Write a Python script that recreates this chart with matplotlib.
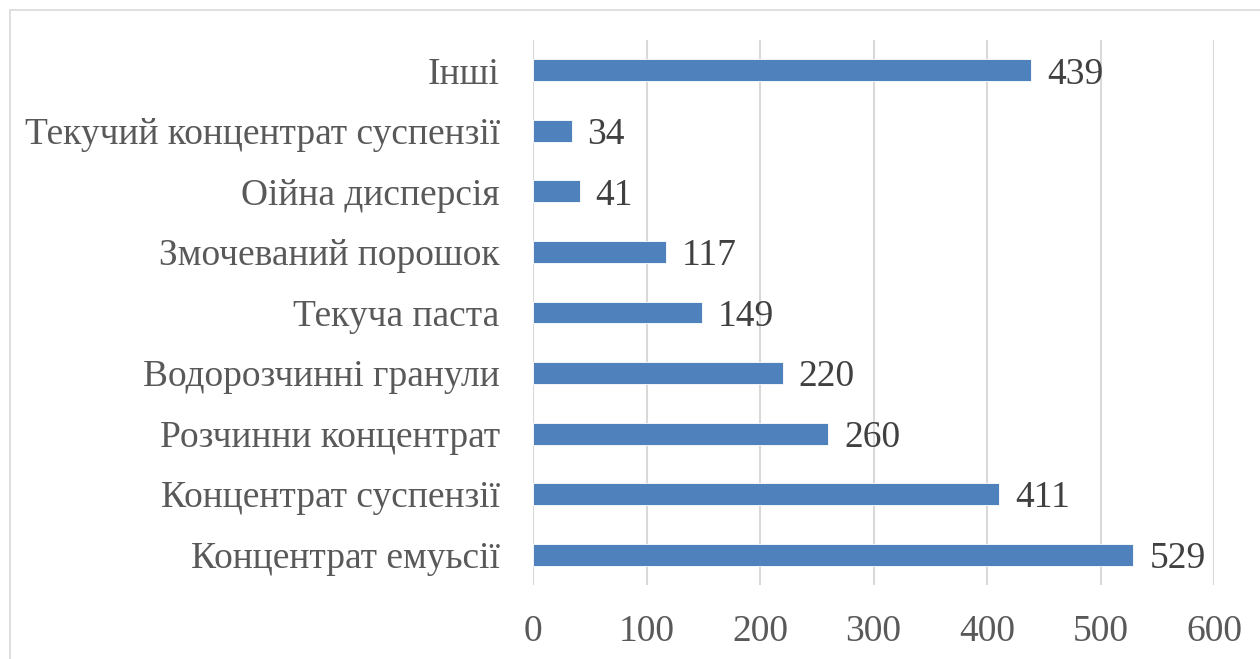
import matplotlib
matplotlib.use("Agg")
import matplotlib.pyplot as plt
from matplotlib.patches import Rectangle

categories = ["Концентрат емуьсії", "Концентрат суспензії", "Розчинни концентрат",
              "Водорозчинні гранули", "Текуча паста", "Змочеваний порошок",
              "Оійна дисперсія", "Текучий концентрат суспензії", "Інші"]
values = [529, 411, 260, 220, 149, 117, 41, 34, 439]
xticks = [0, 100, 200, 300, 400, 500, 600]

plt.rcParams['font.family'] = ['Liberation Serif', 'DejaVu Serif']

fig = plt.figure(figsize=(12.6, 6.59), dpi=100)
fig.patches.append(Rectangle((10/1260, -0.1), 1.2, 1 - 10/659 + 0.1,
                             transform=fig.transFigure, fill=False,
                             edgecolor='#d9d9d9', linewidth=1.2))
ax = fig.add_axes([533/1260, 1 - 585/659, (1214 - 533)/1260, (585 - 40)/659])
y = range(len(categories))
ax.barh(y, values, height=0.36, color='#4f81bd', edgecolor='white', linewidth=0.6, zorder=3)
for yi, v in zip(y, values):
    ax.text(v + 14, yi, str(v), va='center_baseline', ha='left', fontsize=27,
            color='#404040', zorder=4)
ax.set_xlim(0, 600)
ax.set_ylim(-0.5, len(categories) - 0.5)
ax.set_xticks(xticks)
ax.set_xticklabels([str(t) for t in xticks], fontsize=27, color='#595959')
ax.set_yticks(list(y))
ax.set_yticklabels(categories, fontsize=27, color='#595959')
ax.tick_params(length=0)
ax.tick_params(axis='x', pad=21)
ax.tick_params(axis='y', pad=24)
ax.grid(axis='x', color='#d9d9d9', linewidth=1.5, zorder=0)
for s in ax.spines.values():
    s.set_visible(False)
fig.savefig('out.png', dpi=100)
